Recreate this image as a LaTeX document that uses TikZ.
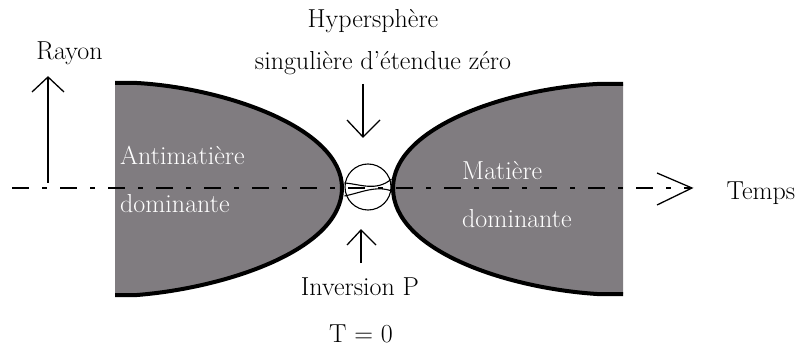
\documentclass[tikz,border=0pt]{standalone}
\definecolor{fillgray}{RGB}{128,124,128}
\tikzset{
  lbl/.style={inner sep=0pt, anchor=base, font=\fontsize{26}{31}\selectfont},
  wlbl/.style={lbl, anchor=base west, text=white},
  edge/.style={line width=4pt, line join=round},
  arr/.style={line width=1.3pt},
  axis/.style={line width=1.4pt, dash pattern=on 17pt off 13pt on 5pt off 13pt},
}
\begin{document}
\begin{tikzpicture}[x=1pt,y=-1pt]
\useasboundingbox (0,0) rectangle (802,347);
% left shape
\fill[fillgray] (115,83) -- (137,83) .. controls (225,88) and (342,128) .. (342,188)
  .. controls (342,250) and (225,288) .. (137,295) -- (115,295) -- cycle;
\draw[edge] (115,83) -- (137,83) .. controls (225,88) and (342,128) .. (342,188)
  .. controls (342,250) and (225,288) .. (137,295) -- (115,295);
% right shape
\fill[fillgray] (623,84) -- (597,84) .. controls (505,89) and (393,128) .. (393,188)
  .. controls (393,250) and (505,288) .. (597,294) -- (623,294) -- cycle;
\draw[edge] (623,84) -- (597,84) .. controls (505,89) and (393,128) .. (393,188)
  .. controls (393,250) and (505,288) .. (597,294) -- (623,294);
% singular hypersphere
\node[draw, circle, line width=1.1pt, minimum size=46pt, inner sep=0pt] (hs) at (368,187) {};
\draw[line width=1.1pt] (hs.west) ++(0,-4) .. controls (360,184) and (376,192) .. ([yshift=8]hs.east);
\draw[line width=1.1pt] (hs.west) ++(0,9) .. controls (360,193) and (376,185) .. ([yshift=-4]hs.east);
% axis
\coordinate (ax0) at (12,188);
\coordinate (ax1) at (692,188);
\draw[axis] (ax0) -- (ax1);
\draw[arr] (657,173) -- (ax1) -- (657,205);
% labels
\node[lbl] (temps) at (761,200) {Temps};
\node[lbl] (rayon) at (69.5,60) {Rayon};
\node[lbl] (hyp1) at (373,28) {Hypersphère};
\node[lbl] (hyp2) at (383,70) {singulière d'étendue zéro};
\node[lbl] (inv) at (360,295) {Inversion P};
\node[lbl] (t0) at (361,342) {T = 0};
\node[wlbl] (am1) at (120,165) {Antimatière};
\node[wlbl] (am2) at (120,212) {dominante};
\node[wlbl] (m1) at (462,180) {Matière};
\node[wlbl] (m2) at (462,228) {dominante};
% rayon arrow
\coordinate (r0) at (48,183);
\coordinate (r1) at (48,77);
\draw[arr] (r0) -- (r1);
\draw[arr] (32,92) -- (r1) -- (64,92);
% down arrow
\coordinate (d0) at (363,84);
\coordinate (d1) at (363,137);
\draw[arr] (d0) -- (d1);
\draw[arr] (347,120) -- (d1) -- (380,120);
% up arrow
\coordinate (u0) at (361,263);
\coordinate (u1) at (361,230);
\draw[arr] (u0) -- (u1);
\draw[arr] (347,245) -- (u1) -- (376,245);
\end{tikzpicture}
\end{document}
